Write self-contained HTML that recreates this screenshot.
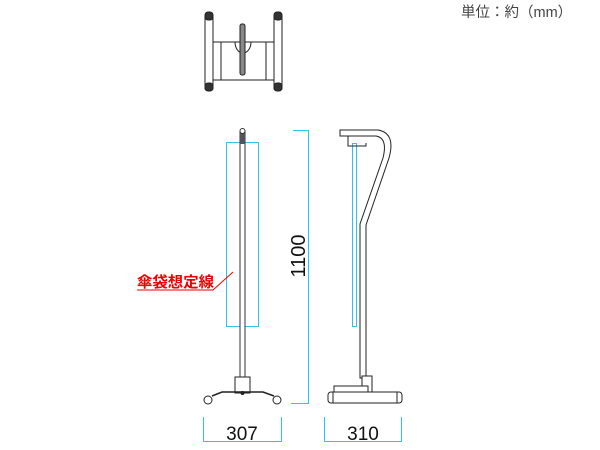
<!DOCTYPE html>
<html><head><meta charset="utf-8"><style>body{margin:0;background:#fff}svg{display:block}</style></head><body>
<svg width="600" height="450" viewBox="0 0 600 450" xmlns="http://www.w3.org/2000/svg" font-family="Liberation Sans, Noto Sans CJK JP, sans-serif">
<text x="461" y="17" font-size="14.5" fill="#444">単位：約（mm）</text>
<!-- top view -->
<g stroke="#222" fill="#fff" stroke-width="1">
<rect x="210" y="42" width="67" height="38"/>
<line x1="221" y1="42" x2="221" y2="80"/><line x1="266" y1="42" x2="266" y2="80"/>
<rect x="205" y="14" width="8" height="76" rx="2"/>
<rect x="274" y="14" width="8" height="76" rx="2"/>
<rect x="205" y="12" width="8" height="8" rx="3" fill="#333"/><rect x="274" y="12" width="8" height="8" rx="3" fill="#333"/>
<rect x="205" y="83" width="8" height="8" rx="3" fill="#333"/><rect x="274" y="83" width="8" height="8" rx="3" fill="#333"/>
<path d="M235 42 A8 11 0 0 0 251 42 Z"/>
<rect x="240" y="24" width="5" height="51" rx="2" fill="#888"/>
</g>
<!-- front view -->
<g fill="none">
<rect x="226.5" y="142.5" width="32" height="184" stroke="#2cc4ee"/>
<rect x="240" y="132" width="5" height="246" fill="#fff" stroke="#333"/>
<rect x="240" y="132" width="5" height="12" fill="#555"/>
<circle cx="242.5" cy="131" r="2.5" fill="#fff" stroke="#333"/>
<rect x="235" y="377" width="15" height="16" fill="#fff" stroke="#222"/>
<path d="M212 396 L222 392 L263 392 L274 396" stroke="#222" stroke-width="1.5"/>
<circle cx="208" cy="400" r="4" fill="#fff" stroke="#222"/>
<circle cx="277" cy="400" r="4" fill="#fff" stroke="#222"/>
<circle cx="242.5" cy="393" r="2" fill="#222"/>
</g>
<!-- red label -->
<text x="137" y="287" font-size="15" fill="#e00" font-weight="bold" textLength="77" lengthAdjust="spacingAndGlyphs">傘袋想定線</text>
<path d="M137 290 L213 290 L233 272" stroke="#e00" fill="none"/>
<!-- dimension 1100 -->
<path d="M293 130.5 H308.5 V403.5 H291" stroke="#2cc4ee" fill="none"/>
<text transform="translate(305,256) rotate(-90)" font-size="20" text-anchor="middle" fill="#111">1100</text>
<!-- side view -->
<g fill="none" stroke="#222">
<rect x="352.5" y="143.5" width="4" height="183" stroke="#2cc4ee"/>
<path d="M340 130 H378 Q396 133 389 158 L366 225 V378 H360 V224 L383 158 Q388 138 376 136 H340 Z" fill="#fff"/>
<path d="M348 136 V146 H366 V143"/>
<rect x="362" y="376" width="10" height="16" fill="#fff"/>
<rect x="334" y="386" width="34" height="6" fill="#fff"/>
<rect x="328" y="392" width="74" height="11" rx="3" fill="#fff"/>
<line x1="333" y1="392" x2="333" y2="403"/><line x1="397" y1="392" x2="397" y2="403"/>
</g>
<!-- bottom dims -->
<g stroke="#2cc4ee" fill="none">
<path d="M203.5 417 V441.5 H281.5 V417"/>
<path d="M324.5 417 V441.5 H401.5 V417"/>
</g>
<text x="242" y="440" font-size="19" text-anchor="middle" fill="#111">307</text>
<text x="363" y="440" font-size="19" text-anchor="middle" fill="#111">310</text>
</svg>
</body></html>
